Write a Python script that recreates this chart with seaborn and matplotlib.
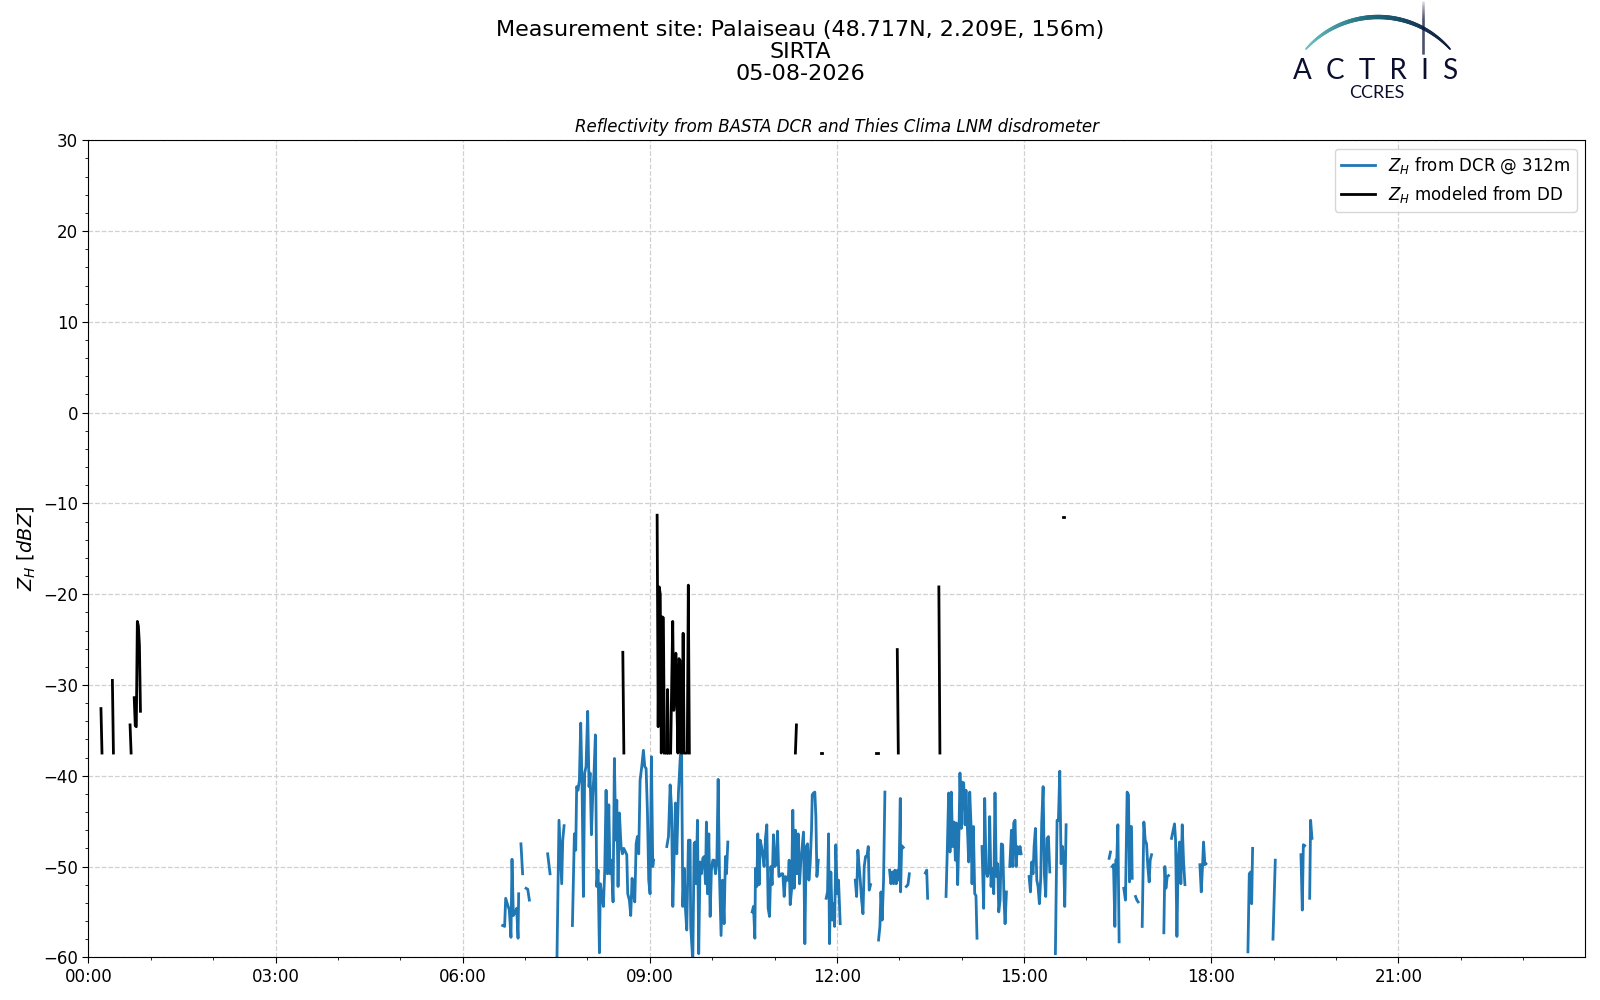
import numpy as np
import pandas as pd
import matplotlib
matplotlib.use("Agg")
import matplotlib.pyplot as plt
import matplotlib.dates as mdates
from matplotlib.ticker import MultipleLocator
from matplotlib.collections import LineCollection
from matplotlib.lines import Line2D
import seaborn as sns

nan = np.nan
obs_date = "2026-08-05"

title_lines = ["Measurement site: Palaiseau (48.717N, 2.209E, 156m)", "SIRTA", "05-08-2026"]
axes_title = "Reflectivity from BASTA DCR and Thies Clima LNM disdrometer"
label_dcr = "$Z_H$ from DCR @ 312m"
label_dd = "$Z_H$ modeled from DD"

# DCR reflectivity at 312 m: minutes after midnight, NaN marks a gap
dcr_minute = [
    398.4, 400.3, 401.3, 404.8, 406.4, 407.4, 408.7, 410.6, 411.9, 413.2, 413.8, nan,
    416.0, 417.6, nan,
    420.9, 422.5, 424.1, nan,
    441.7, 444.0, nan,
    450.4, 452.6, 455.2, 456.2, 457.5, nan,
    465.5, 467.4, 468.7, 469.6, 470.9, 472.2, 473.5, 474.8, 476.1, 477.3, 478.6, 480.2,
    481.5, 482.5, 483.8, 485.0, 486.3, 487.6, 488.9, 490.2, 491.5, 492.4, 494.0, 495.3,
    496.6, 497.9, 499.2, 500.5, 501.7, 503.0, 504.6, 505.9, 507.2, 508.2, 509.4, 510.7,
    512.3, 513.6, 514.9, 517.8, 518.7, 520.3, 521.6, 522.9, 524.2, 525.5, 526.8, 528.0,
    529.3, 530.6, 532.2, 533.8, 535.1, 536.4, 537.7, 538.9, 540.2, 541.5, 542.8, 543.5, nan,
    556.3, 557.9, 559.5, 560.8, 562.1, 563.3, 564.6, 565.9, 567.5, 569.1, 570.4, 571.7,
    573.0, 574.3, 575.5, 577.1, 578.7, 579.3, 581.3, 582.6, 583.5, 584.5, 585.8, 587.0,
    588.3, 589.6, 590.9, 592.2, 593.5, 594.4, 595.4, 596.7, 598.0, 599.2, 600.5, 601.8,
    603.1, 604.4, 605.7, 607.0, 608.5, 609.8, 611.4, 612.7, 613.7, 615.0, nan,
    638.4, 639.7, 641.0, 641.6, 642.9, 643.8, 645.1, 646.1, 647.4, 648.7, 649.9, 651.2,
    652.5, 653.8, 655.1, 656.4, 657.6, 658.9, 660.2, 661.5, 662.8, 664.1, 665.3, 666.6,
    667.9, 669.2, 670.5, 671.8, 673.1, 674.0, 675.0, 676.3, 677.5, 678.8, 680.1, 681.4,
    682.7, 684.0, 685.3, 687.8, 689.1, 690.4, 691.7, 693.0, 694.2, 695.5, 696.2, 697.4,
    698.7, 699.7, 700.7, 702.0, nan,
    709.6, 710.9, 711.9, 712.8, 714.1, 715.4, 716.7, 717.7, 718.9, 720.2, 721.5, 723.1, nan,
    737.6, 738.9, 740.1, 741.1, 742.4, 743.7, 745.0, 746.2, 747.5, 748.8, 750.1, 751.0, 752.3, nan,
    760.0, 761.3, 762.3, 763.5, 764.8, 766.1, nan,
    770.6, 771.9, 773.2, 774.5, 775.7, 777.0, 778.3, 779.6, 780.9, 781.2, 782.2, 783.8, nan,
    786.7, 788.3, 789.6, nan,
    805.0, 806.3, 807.2, nan,
    824.9, 826.2, 827.4, 828.7, 830.0, 831.3, 832.6, 833.9, 834.8, 836.1, 837.4, 838.3,
    839.6, 840.6, 841.9, 843.2, 844.1, 845.4, 846.7, 847.7, 849.0, 849.9, 851.2, 852.5,
    853.7, 854.7, nan,
    859.5, 861.1, 862.1, 863.4, 864.7, 866.0, 866.9, 868.2, 869.5, 870.8, 872.0, 873.3,
    874.6, 875.6, 876.9, 878.1, 879.4, 880.7, 881.7, 883.0, nan,
    886.2, 886.8, 887.8, 889.1, 890.0, 891.3, 892.3, 893.5, 894.8, 896.1, 897.1, nan,
    904.8, 906.1, 907.3, 908.6, 909.6, 910.9, 912.2, 913.4, 914.7, 916.0, 916.9, 918.3,
    919.5, 920.8, 922.1, 923.4, 924.7, nan,
    930.1, 931.7, 933.0, 934.3, 935.6, 936.9, 938.2, 939.1, 940.4, nan,
    981.8, 983.1, nan,
    984.7, 986.0, 987.3, 988.2, 989.2, 990.2, 991.4, nan,
    995.9, 997.5, 999.1, 1000.4, 1001.4, 1002.4, 1003.3, 1004.0, nan,
    1007.2, 1008.5, 1009.7, nan,
    1013.6, 1015.2, 1016.5, 1017.8, 1019.0, 1020.3, 1021.3, 1022.6, nan,
    1034.4, 1035.4, 1036.4, 1037.7, 1038.9, nan,
    1041.8, 1043.4, 1044.7, 1045.7, 1047.0, 1048.2, 1049.5, 1050.8, 1052.1, 1053.4, 1054.7, nan,
    1069.1, 1070.4, 1071.7, 1072.6, 1073.9, 1074.9, nan,
    1115.3, 1116.6, 1117.9, 1118.9, 1119.8, nan,
    1139.4, 1141.6, nan,
    1166.3, 1167.6, 1168.6, 1169.9, nan,
    1174.7, 1175.6, 1176.9,
]
dcr_dbz = [
    -56.5, -56.6, -53.5, -54.8, -57.8, -49.2, -55.4, -55.0, -54.6, -57.9, -53.0, nan,
    -47.5, -50.8, nan,
    -52.4, -52.5, -53.7, nan,
    -48.6, -50.8, nan,
    -62.0, -44.9, -51.9, -47.1, -45.5, nan,
    -56.5, -46.4, -48.2, -41.2, -41.6, -40.5, -34.2, -41.2, -53.3, -39.7, -39.0, -32.9,
    -41.2, -39.7, -46.5, -42.3, -39.7, -35.5, -52.2, -50.4, -59.5, -51.9, -53.3, -54.4,
    -50.4, -41.6, -50.8, -43.2, -50.8, -49.3, -53.9, -38.1, -47.1, -42.7, -52.2, -44.1,
    -47.8, -48.6, -48.0, -48.7, -53.0, -53.7, -55.4, -51.3, -53.0, -53.9, -47.5, -46.7,
    -48.6, -40.5, -39.0, -37.2, -39.0, -39.2, -44.1, -51.5, -53.0, -37.9, -50.0, -49.3, nan,
    -47.8, -46.7, -41.0, -43.4, -54.4, -48.9, -43.0, -48.6, -41.9, -38.3, -35.7, -54.4,
    -50.2, -54.8, -57.0, -47.1, -47.1, -56.6, -60.5, -47.5, -47.3, -51.9, -44.9, -59.6,
    -49.5, -50.8, -49.1, -48.9, -51.9, -45.1, -53.0, -46.4, -55.5, -50.4, -49.3, -49.3,
    -50.8, -49.7, -40.4, -51.1, -57.6, -51.5, -56.3, -48.9, -50.8, -47.3, nan,
    -55.0, -54.4, -57.9, -50.2, -52.2, -46.4, -52.0, -47.1, -47.8, -48.9, -50.0, -46.9,
    -45.4, -54.6, -55.5, -50.0, -52.0, -46.5, -50.0, -49.8, -46.1, -51.1, -51.0, -50.8,
    -50.8, -53.3, -51.1, -51.5, -51.5, -49.3, -54.2, -52.6, -43.8, -52.4, -46.0, -50.8,
    -46.4, -51.9, -49.3, -46.2, -58.5, -47.8, -47.5, -51.5, -49.7, -46.0, -42.1, -41.9,
    -41.8, -44.5, -51.1, -49.3, nan,
    -53.5, -52.8, -46.4, -58.5, -50.6, -55.9, -54.1, -56.6, -47.6, -53.0, -51.5, -56.3, nan,
    -51.5, -53.3, -48.2, -49.7, -51.5, -53.7, -55.2, -50.0, -48.9, -48.9, -47.8, -52.6, -52.0, nan,
    -58.1, -56.6, -52.8, -55.9, -51.5, -41.8, nan,
    -50.4, -51.9, -50.6, -51.9, -50.4, -51.9, -50.4, -51.5, -42.5, -52.8, -47.7, -47.9, nan,
    -52.2, -52.0, -50.8, nan,
    -50.7, -50.4, -53.5, nan,
    -53.3, -47.8, -41.9, -48.4, -41.8, -47.8, -45.1, -49.3, -45.2, -52.0, -46.0, -39.7,
    -45.8, -40.7, -40.8, -45.4, -41.6, -45.6, -49.5, -41.8, -45.6, -51.9, -45.6, -53.0,
    -53.2, -57.9, nan,
    -47.8, -54.6, -42.5, -50.4, -51.1, -50.4, -44.5, -52.2, -50.2, -53.0, -41.9, -51.1,
    -49.7, -55.0, -53.7, -47.5, -47.6, -53.7, -56.3, -52.8, nan,
    -50.0, -48.6, -46.0, -50.0, -45.2, -44.9, -50.0, -47.8, -48.6, -47.8, -48.6, nan,
    -51.1, -52.8, -49.5, -50.8, -47.8, -45.8, -51.5, -52.2, -54.1, -51.3, -45.2, -41.2,
    -50.8, -53.3, -46.9, -46.7, -50.6, nan,
    -59.6, -44.9, -44.9, -39.5, -49.7, -47.8, -49.7, -54.4, -45.4, nan,
    -49.1, -48.4, nan,
    -50.0, -49.8, -56.6, -49.3, -49.1, -45.4, -58.3, nan,
    -52.4, -53.7, -41.8, -42.1, -51.7, -45.6, -45.6, -51.3, nan,
    -53.3, -53.7, -53.9, nan,
    -56.6, -45.1, -47.1, -47.5, -50.0, -51.7, -49.3, -48.7, nan,
    -57.3, -50.0, -52.4, -51.1, -51.0, nan,
    -46.9, -46.0, -45.3, -47.1, -57.7, -49.3, -47.3, -51.9, -45.4, -49.5, -52.0, nan,
    -49.8, -52.8, -49.8, -47.3, -49.8, -49.7, nan,
    -59.4, -50.8, -50.6, -54.1, -48.0, nan,
    -58.0, -49.3, nan,
    -48.7, -54.8, -47.6, -47.7, nan,
    -53.5, -44.9, -46.9,
]

# Reflectivity modeled from the disdrometer drop size distribution
dd_minute = [
    12, 13, nan,
    23, 24, nan,
    40, 41, nan,
    44, 45, 46, 47, 48, 49, 50, nan,
    514, 515, nan,
    547, 548, 549, 550, 551, 552, 553, 554, nan,
    556, 557, 558, nan,
    560, 561, 562, 563, 564, 565, 566, 567, 568, 569, 570, 571, 572, 573, nan,
    575, 576, 577, 578, nan,
    680, 681, nan,
    705, 706, nan,
    758, 759, nan,
    778, 779, nan,
    818, 819, nan,
    937, 938,
]
dd_dbz = [
    -32.6, -37.5, nan,
    -29.5, -37.5, nan,
    -34.4, -37.5, nan,
    -31.4, -34.5, -34.6, -23.0, -23.5, -25.6, -32.9, nan,
    -26.4, -37.5, nan,
    -11.3, -34.6, -19.2, -20.0, -37.5, -22.5, -22.6, -37.5, nan,
    -37.5, -30.5, -37.5, nan,
    -37.5, -30.0, -23.0, -32.8, -31.0, -26.5, -32.0, -37.5, -27.1, -27.3, -37.5, -37.5, -24.3, -37.5, nan,
    -37.5, -37.5, -19.0, -37.5, nan,
    -37.5, -34.4, nan,
    -37.5, -37.5, nan,
    -37.5, -37.5, nan,
    -26.1, -37.5, nan,
    -19.2, -37.5, nan,
    -11.5, -11.5,
]

y_range = (-60, 30)


def to_frame(minutes, values):
    df = pd.DataFrame({"minute": minutes, "dbz": values})
    gap = df["dbz"].isna()
    df["seg"] = gap.cumsum()
    df = df[~gap].copy()
    df["time"] = pd.Timestamp(obs_date) + pd.to_timedelta(df["minute"], unit="m")
    return df


dcr = to_frame(dcr_minute, dcr_dbz)
dd = to_frame(dd_minute, dd_dbz)

plt.rcParams["font.family"] = ["DejaVu Sans"]
fig = plt.figure(figsize=(16, 10), dpi=100)
ax = fig.add_axes([0.0553, 0.0427, 0.9353, 0.8170])

blue = "#1f77b4"
sns.lineplot(data=dcr, x="time", y="dbz", units="seg", estimator=None, sort=False,
             color=blue, lw=2, ax=ax, legend=False)
sns.lineplot(data=dd, x="time", y="dbz", units="seg", estimator=None, sort=False,
             color="black", lw=2, ax=ax, legend=False)

day0 = pd.Timestamp(obs_date)
ax.set_xlim(day0, day0 + pd.Timedelta(hours=23, minutes=59, seconds=30))
ax.set_ylim(*y_range)
ax.xaxis.set_major_locator(mdates.HourLocator(byhour=range(0, 24, 3)))
ax.xaxis.set_minor_locator(mdates.HourLocator())
ax.xaxis.set_major_formatter(mdates.DateFormatter("%H:%M"))
ax.yaxis.set_major_locator(MultipleLocator(10))
ax.yaxis.set_minor_locator(MultipleLocator(2))
ax.tick_params(axis="both", which="major", labelsize=12, length=4)
ax.tick_params(axis="both", which="minor", length=2.5)
ax.grid(True, which="major", linestyle="--", color="#d0d0d0", linewidth=0.9)
ax.set_axisbelow(True)
ax.set_xlabel("")
ax.set_ylabel("$Z_H$ [$dBZ$]", fontsize=14)
ax.set_title(axes_title, fontsize=12, style="italic")

handles = [Line2D([], [], color=blue, lw=2), Line2D([], [], color="black", lw=2)]
ax.legend(handles, [label_dcr, label_dd], loc="upper right", fontsize=12)

fig.text(0.5, 0.980, "\n".join(title_lines), ha="center", va="top", fontsize=16,
         linespacing=1.14)

# ACTRIS CCRES logo
lax = fig.add_axes([1290 / 1600, 0.9, 180 / 1600, 0.1])
lax.set_xlim(1290, 1470)
lax.set_ylim(100, 0)
lax.axis("off")
theta = np.linspace(np.radians(138), np.radians(42), 120)
ax_x = 1378 + 97 * np.cos(theta)
ax_y = 114 - 97 * np.sin(theta)
pts = np.column_stack([ax_x, ax_y]).reshape(-1, 1, 2)
segs = np.concatenate([pts[:-1], pts[1:]], axis=1)
f = np.linspace(0, 1, len(segs))
c0 = np.array([0.43, 0.78, 0.76])
c1 = np.array([0.12, 0.42, 0.50])
c2 = np.array([0.07, 0.09, 0.24])
cols = [tuple(c0 + (c1 - c0) * (t / 0.45)) if t < 0.45 else tuple(c1 + (c2 - c1) * ((t - 0.45) / 0.55)) for t in f]
widths = 0.6 + 2.6 * np.sin(np.pi * np.clip(f * 0.9 + 0.05, 0, 1)) ** 0.7
lax.add_collection(LineCollection(segs, colors=cols, linewidths=widths, capstyle="round"))
vy = np.linspace(1, 54, 60)
vpts = np.column_stack([np.full_like(vy, 1423.3), vy]).reshape(-1, 1, 2)
vsegs = np.concatenate([vpts[:-1], vpts[1:]], axis=1)
vf = np.linspace(0, 1, len(vsegs))
vcols = [(0.07, 0.09, 0.24, min(1.0, 0.15 + 2.5 * t)) for t in vf]
lax.add_collection(LineCollection(vsegs, colors=vcols, linewidths=1.8))
lax.text(1376, 79, "A  C  T  R  I  S", ha="center", va="baseline", fontsize=20,
         family="Lato", color="#0c0e2e")
lax.text(1377, 98, "CCRES", ha="center", va="baseline", fontsize=13,
         family="Lato", color="#0c0e2e")

fig.savefig("out.png", dpi=100)
